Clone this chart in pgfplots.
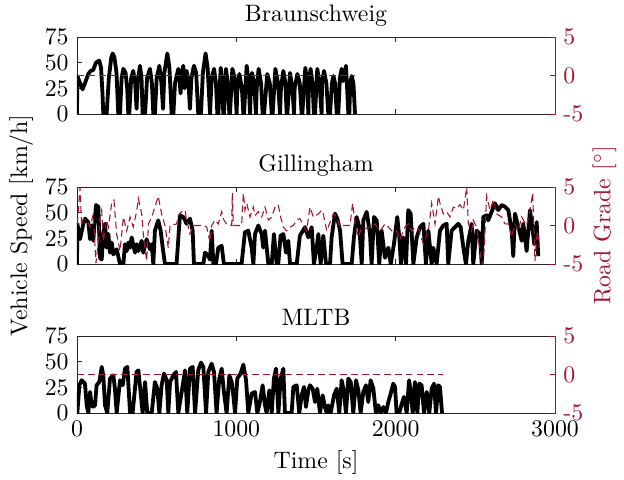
\documentclass[border=0pt]{standalone}
\usepackage{pgfplots}
\pgfplotsset{compat=1.18}
\definecolor{mred}{rgb}{0.635,0.078,0.184}
\pgfplotsset{
  spd/.style={scale only axis, width=200.76pt, height=32.34pt, anchor=south west,
    xmin=0, xmax=3000, ymin=0, ymax=75, ytick={0,25,50,75}, xtick={0,1000,2000,3000},
    ytick pos=left, xtick pos=both, tick align=inside, major tick length=2.1pt,
    /pgf/number format/set thousands separator={},
    axis line style={black!85}, tick style={black!85},
    title style={yshift=-5pt}, clip=true},
  grd/.style={scale only axis, width=200.76pt, height=32.34pt, anchor=south west,
    xmin=0, xmax=3000, ymin=-5, ymax=5, ytick={-5,0,5}, yticklabels={-5,0,5},
    axis y line*=right, axis x line=none, tick align=inside, major tick length=2.1pt,
    y axis line style={mred}, ytick style={mred}, yticklabel style={mred}},
  spdline/.style={black, line width=1.6pt, line join=round},
  grdline/.style={mred, line width=0.45pt, dash pattern=on 2.9pt off 1.7pt},
}
\begin{document}
\begin{tikzpicture}
\path[use as bounding box] (0,0) rectangle (262.08pt,201.18pt);
% ---------------- Braunschweig
\begin{axis}[spd, at={(32.34pt,153.3pt)}, title={Braunschweig}, xticklabels={}]
\addplot[spdline] coordinates {
(0,0) (2,37) (19,30) (35,24) (50,30) (71,39) (86,42) (102,43) (119,50) (140,52) (151,45) (160,20) (165,0)
(186,0) (200,35) (215,55) (224,59) (235,55) (248,40) (259,0)
(270,0) (280,35) (291,44) (305,40) (315,25) (322,0)
(328,0) (340,35) (353,42) (365,30) (374,5)
(380,30) (395,47) (405,35) (412,0)
(427,0) (440,35) (458,44) (470,30) (479,0)
(489,0) (500,35) (517,47) (530,30) (540,5)
(548,40) (567,59) (580,45) (594,0)
(605,0) (615,30) (636,44) (645,30) (650,20) (658,40) (667,47)
(675,25) (688,42) (700,30) (709,5)
(718,35) (734,47) (748,40) (761,0)
(778,0) (790,40) (807,59) (820,45) (835,0)
(845,35) (860,44) (872,30) (881,0)
(887,0) (902,45) (912,30) (918,0)
(922,0) (935,44) (946,30) (956,0)
(960,0) (975,44) (990,35) (1002,0)
(1005,20) (1019,39) (1035,25) (1044,0)
(1048,0) (1065,47) (1078,30) (1086,0)
(1090,20) (1098,40) (1112,30) (1123,0)
(1128,25) (1140,44) (1155,30) (1165,0)
(1174,0) (1194,39) (1210,30) (1222,0)
(1228,0) (1245,44) (1262,30) (1274,0)
(1280,25) (1295,42) (1308,30) (1316,0)
(1320,0) (1337,40) (1352,25) (1362,0)
(1366,25) (1383,39) (1398,30) (1410,0)
(1414,0) (1433,45) (1445,30) (1452,0)
(1455,30) (1466,44) (1478,30) (1487,0)
(1494,0) (1508,44) (1522,30) (1535,0)
(1538,30) (1550,42) (1565,30) (1577,0)
(1588,0) (1600,30) (1609,37) (1620,30) (1630,0)
(1640,0) (1650,35) (1661,44) (1670,32) (1680,38) (1688,47) (1697,20) (1703,0)
(1709,0) (1715,30) (1724,37) (1735,30) (1745,0)
};
\end{axis}
\begin{axis}[grd, at={(32.34pt,153.3pt)}]
\addplot[grdline] coordinates {(0,0) (1745,0)};
\end{axis}
% ---------------- Gillingham
\begin{axis}[spd, at={(32.34pt,90.3pt)}, title={Gillingham}, xticklabels={},
  ylabel={Vehicle Speed [km/h]}, ylabel style={yshift=-2pt}]
\addplot[spdline] coordinates {
(0,0) (2,39.2) (19,24.2) (40,39.2) (50,44.2) (71,40.8) (82,24.2) (92,37.5) (102,22.6) (119,57.4) (134,55.8) (144,6) (155,4.3) (165,29.2) (176,39.2) (186,15.9) (197,29.2) (207,11) (218,20.9) (228,9.3) (249,14.3) (270,0) (291,0) (301,19.3) (312,12.6) (322,20.9) (333,15.9) (343,25.9) (364,11) (374,19.3) (385,12.6) (406,22.6) (416,11) (437,24.2) (458,14.3) (469,19.3) (479,0) (489,32.5) (510,42.5) (525,32.5) (538,15.9) (552,0) (625,0) (646,47.5) (667,45.8) (688,39.2) (709,44.2) (726,32.5) (734,0) (793,0) (803,11) (818,9.3) (835,4.3) (845,32.5) (856,0) (872,0) (887,15.9) (908,17.6) (922,0) (1033,0) (1054,30.9) (1075,32.5) (1096,15.9) (1107,0) (1117,29.2) (1138,37.5) (1159,29.2) (1169,15.9) (1180,32.5) (1201,0) (1222,0) (1236,29.2) (1253,0) (1263,0) (1278,27.6) (1295,29.2) (1312,11) (1326,22.6) (1337,0) (1379,0) (1399,27.6) (1431,35.9) (1452,25.9) (1473,35.9) (1487,0) (1504,15.9) (1515,29.2) (1529,0) (1546,27.6) (1563,0) (1588,0) (1598,25.9) (1619,49.1) (1634,44.2) (1651,32.5) (1667,0) (1724,0) (1738,25.9) (1755,45.8) (1772,35.9) (1787,0) (1797,42.5) (1818,50.8) (1839,29.2) (1849,0) (1864,45.8) (1881,42.5) (1897,0) (1912,32.5) (1933,6) (1954,15.9) (1969,0) (1989,19.3) (2010,45.8) (2023,25.9) (2033,0) (2048,25.9) (2065,0) (2079,52.5) (2094,49.1) (2111,0) (2132,25.9) (2153,35.9) (2174,39.2) (2190,0) (2205,32.5) (2226,0) (2236,15.9) (2257,0) (2278,32.5) (2299,37.5) (2320,39.2) (2330,0) (2351,32.5) (2372,35.9) (2393,39.2) (2408,35.9) (2425,15.9) (2441,0) (2456,22.6) (2477,39.2) (2487,0) (2508,32.5) (2529,29.2) (2540,0) (2550,45.8) (2571,47.5) (2581,42.5) (2602,50.8) (2623,59.1) (2644,52.5) (2665,57.4) (2686,55.8) (2707,52.5) (2728,32.5) (2738,7.6) (2749,49.1) (2770,35.9) (2791,22.6) (2801,39.2) (2822,12.6) (2843,52.5) (2860,32.5) (2870,19.3) (2885,40.8) (2895,7.6)
};
\end{axis}
\begin{axis}[grd, at={(32.34pt,90.3pt)}, ylabel={Road Grade [$^\circ$]}, ylabel style={mred, yshift=3pt}]
\addplot[grdline] coordinates {
(2,0.2) (19,4.9) (29,0) (40,0.9) (61,0.7) (82,-0.2) (102,1.5) (119,-4.9) (134,-2) (144,1.1) (155,2) (165,-2) (186,0.7) (197,-0.2) (218,2.9) (232,3.3) (249,-1.1) (270,-3.3) (291,1.1) (312,-0.7) (333,1.1) (353,-0.2) (374,1.8) (385,3.5) (406,1.5) (416,-1.1) (437,-4.6) (448,0.2) (469,1.1) (489,2.4) (510,3.8) (531,1.5) (552,0) (563,-1.5) (573,-2.9) (584,0) (625,0.2) (636,1.3) (657,1.8) (678,2) (688,0.7) (709,-1.1) (730,0) (793,0) (814,-0.2) (835,-2.2) (845,0) (866,0.7) (887,0.2) (908,1.8) (922,0.7) (939,0.2) (971,0) (975,4.2) (981,0) (1033,0) (1044,4.2) (1054,2) (1065,2.9) (1086,1.1) (1107,2.4) (1117,1.3) (1138,1.8) (1159,1.1) (1180,2.4) (1201,0.7) (1222,1.1) (1243,2.4) (1263,2.7) (1278,1.1) (1295,-0.2) (1316,-0.7) (1337,-0.2) (1358,0) (1379,0.7) (1399,0.9) (1420,0) (1441,-0.7) (1462,2.4) (1483,1.1) (1515,1.5) (1536,2) (1546,1.5) (1567,-0.7) (1588,0.4) (1609,1.5) (1630,1.1) (1651,-0.2) (1671,0) (1713,0) (1730,2.9) (1745,0.2) (1766,-1.5) (1787,-0.2) (1807,-0.4) (1839,-0.2) (1870,0.2) (1902,-0.7) (1933,0.2) (1954,-0.2) (1985,-0.9) (2006,-0.7) (2027,-1.8) (2058,-0.2) (2079,0.2) (2100,-0.7) (2121,-0.2) (2142,-0.4) (2174,-2.4) (2205,-0.7) (2226,2.9) (2247,0.2) (2268,3.8) (2278,2.9) (2299,1.5) (2320,1.8) (2341,1.1) (2362,2.4) (2383,2.2) (2404,2.7) (2425,2) (2446,5) (2456,0.2) (2477,-0.7) (2487,0.7) (2508,-0.2) (2540,-4.9) (2550,-5) (2561,-0.7) (2571,3.8) (2592,2) (2613,3.3) (2634,1.5) (2665,1.1) (2686,0.2) (2707,0.2) (2728,-1.5) (2749,0.2) (2770,-0.7) (2791,1.1) (2822,0) (2843,2) (2860,4.2) (2874,-4.6) (2889,-0.7) (2902,-2.9)
};
\end{axis}
% ---------------- MLTB
\begin{axis}[spd, at={(32.34pt,27.72pt)}, title={MLTB}, xlabel={Time [s]}, xlabel style={yshift=1pt}]
\addplot[spdline] coordinates {
(0,0) (2,0) (15,27) (29,31.9) (50,28.6) (61,7.5) (71,0) (82,20.5) (92,7.5) (102,5.9) (113,7.5) (123,27) (140,30.2) (155,44.9) (165,36.7) (176,7.5) (190,0) (207,33.5) (228,36.7) (238,23.7) (249,0) (270,31.9) (287,27) (301,43.2) (316,44.9) (333,0) (349,0) (374,40) (385,41.6) (399,20.5) (412,0) (427,30.2) (441,0) (469,0) (489,30.2) (504,23.7) (517,0) (531,27) (546,38.4) (563,31.9) (573,0) (584,30.2) (605,36.7) (621,40) (636,0) (657,20.5) (678,41.6) (692,0) (709,43.2) (726,44.9) (741,0) (761,41.6) (778,49.1) (793,44.9) (810,0) (824,40) (845,48.1) (860,40) (876,0) (893,33.5) (908,43.2) (922,20.5) (939,0) (956,36.7) (971,30.2) (981,17.2) (992,0) (1006,33.5) (1027,38.4) (1044,47.1) (1061,31.9) (1075,0) (1096,18.9) (1117,20.5) (1132,0) (1148,10.7) (1165,27) (1180,7.5) (1190,0) (1207,22.1) (1211,20.5) (1222,0) (1236,33.5) (1249,43.2) (1264,0) (1278,33.5) (1295,43.2) (1305,0) (1347,0) (1358,25.4) (1379,27) (1395,0) (1410,17.2) (1425,25.4) (1437,5.9) (1452,22.1) (1462,27) (1479,23.7) (1494,10.7) (1508,23.7) (1525,0) (1542,17.2) (1556,5.9) (1567,0) (1577,7.5) (1592,0) (1613,17.2) (1630,23.7) (1646,0) (1661,31.9) (1676,20.5) (1688,0) (1703,33.5) (1718,30.2) (1734,0) (1751,31.9) (1766,22.1) (1780,0) (1797,20.5) (1814,27) (1828,10.7) (1843,31.9) (1860,23.7) (1876,0) (1891,7.5) (1906,0) (1923,5.9) (1939,0) (1954,10.7) (1969,18.9) (1985,28.6) (1996,25.4) (2006,0) (2023,0) (2038,9.1) (2052,15.6) (2069,0) (2084,31.9) (2094,22.1) (2107,0) (2121,30.2) (2136,0) (2148,28.6) (2163,27) (2178,0) (2195,20.5) (2211,0) (2226,23.7) (2241,28.6) (2253,0) (2268,27) (2278,25.4) (2291,0)
};
\end{axis}
\begin{axis}[grd, at={(32.34pt,27.72pt)}]
\addplot[grdline] coordinates {(0,0) (2297,0)};
\end{axis}
\end{tikzpicture}
\end{document}
